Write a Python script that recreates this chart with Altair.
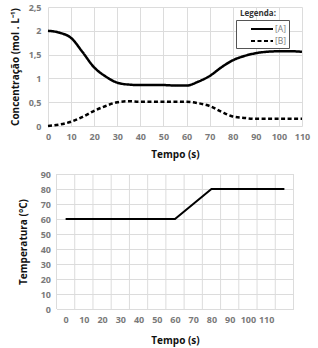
import altair as alt
import pandas as pd

# Concentration of A and B over time
tempo = [0, 5, 10, 15, 20, 25, 30, 35, 40, 45, 50, 55, 60, 65, 70, 75, 80, 85, 90, 95, 100, 105, 110]
conc_a = [2.0, 1.96, 1.85, 1.55, 1.23, 1.04, 0.91, 0.87, 0.86, 0.86, 0.86, 0.85, 0.85, 0.93, 1.05, 1.23, 1.38, 1.47, 1.53, 1.56, 1.57, 1.57, 1.56]
conc_b = [0.0, 0.03, 0.09, 0.19, 0.32, 0.42, 0.5, 0.52, 0.51, 0.51, 0.51, 0.51, 0.51, 0.48, 0.42, 0.3, 0.2, 0.17, 0.15, 0.15, 0.15, 0.15, 0.15]
series_names = ["[A]", "[B]"]

# Temperature profile
tempo_temp = [0, 60, 80, 120]
temperatura = [60, 60, 80, 80]

x_ticks_top = list(range(0, 111, 10))
y_ticks_top = [0, 0.5, 1, 1.5, 2, 2.5]
x_ticks_bottom = list(range(0, 111, 10))
x_grid_bottom = list(range(-5, 126, 10))
y_ticks_bottom = list(range(0, 91, 10))

FONT = "Open Sans"
GRID = "#dcdcdc"
LABEL = "#7a7a7a"

conc = pd.DataFrame({
    "tempo": tempo * 2,
    "valor": conc_a + conc_b,
    "serie": [series_names[0]] * len(tempo) + [series_names[1]] * len(tempo),
})

lines = alt.Chart(conc).mark_line(
    color="black", strokeWidth=2.5, interpolate="monotone"
).encode(
    x=alt.X("tempo:Q", scale=alt.Scale(domain=[0, 110], nice=False),
            axis=alt.Axis(values=x_ticks_top, title="Tempo (s)", grid=True,
                          labelOverlap=False, labelPadding=6, titlePadding=8)),
    y=alt.Y("valor:Q", scale=alt.Scale(domain=[0, 2.5], nice=False),
            axis=alt.Axis(values=y_ticks_top, format=".1~f",
                          labelExpr="replace(datum.label, '.', ',')",
                          title="Concentração (mol . L⁻¹)", grid=True,
                          labelPadding=7, titlePadding=8)),
    strokeDash=alt.StrokeDash(
        "serie:N",
        scale=alt.Scale(domain=series_names, range=[[1, 0], [4, 2.5]]),
        legend=alt.Legend(
            title=None, orient="none", legendX=188, legendY=13,
            fillColor="white", strokeColor="#555555", padding=2,
            symbolType="M-2,0H2", symbolSize=121, symbolStrokeWidth=2.2,
            symbolStrokeColor="black", symbolOffset=17, labelOffset=6,
            rowPadding=0,
            labelFont=FONT, labelFontSize=8.5, labelColor=LABEL,
        ),
    ),
)

legend_title = alt.Chart(pd.DataFrame({"txt": ["Legenda:"]})).mark_text(
    align="left", baseline="middle", font=FONT, fontSize=8,
    fontWeight="bold", color="#333333",
).encode(text="txt:N", x=alt.value(192), y=alt.value(7))

top = alt.layer(lines, legend_title).properties(width=254, height=119)

temp_df = pd.DataFrame({"tempo": tempo_temp, "temp": temperatura})
grid_df = pd.DataFrame({"g": x_grid_bottom})

x_axis_bottom = alt.Axis(values=x_ticks_bottom, title="Tempo (s)", grid=False,
                         labelOverlap=False, labelPadding=6, titlePadding=11)
x_scale_bottom = alt.Scale(domain=[-5, 125], nice=False)

vgrid = alt.Chart(grid_df).mark_rule(color=GRID, strokeWidth=1).encode(
    x=alt.X("g:Q", scale=x_scale_bottom, axis=x_axis_bottom)
)

temp_line = alt.Chart(temp_df).mark_line(color="black", strokeWidth=2).encode(
    x=alt.X("tempo:Q", scale=x_scale_bottom, axis=x_axis_bottom),
    y=alt.Y("temp:Q", scale=alt.Scale(domain=[0, 90], nice=False),
            axis=alt.Axis(values=y_ticks_bottom, title="Temperatura (°C)",
                          grid=True, labelPadding=6, titlePadding=12)),
)

bottom = alt.layer(vgrid, temp_line).properties(width=237, height=135)

chart = alt.vconcat(top, bottom, spacing=48, center=True, bounds="flush").properties(
    padding={"left": 10, "top": 3, "right": 3, "bottom": 3},
    background="white",
).configure_view(stroke=None).configure_axis(
    domain=False, ticks=False, gridColor=GRID, gridWidth=1,
    labelOverlap=False, labelFlush=False,
    labelFont=FONT, labelFontSize=9, labelFontWeight="bold", labelColor=LABEL,
    titleFont=FONT, titleFontSize=10, titleFontWeight="bold", titleColor="#111111",
)

chart.save("out.html", embed_options={"renderer": "svg", "actions": False})
